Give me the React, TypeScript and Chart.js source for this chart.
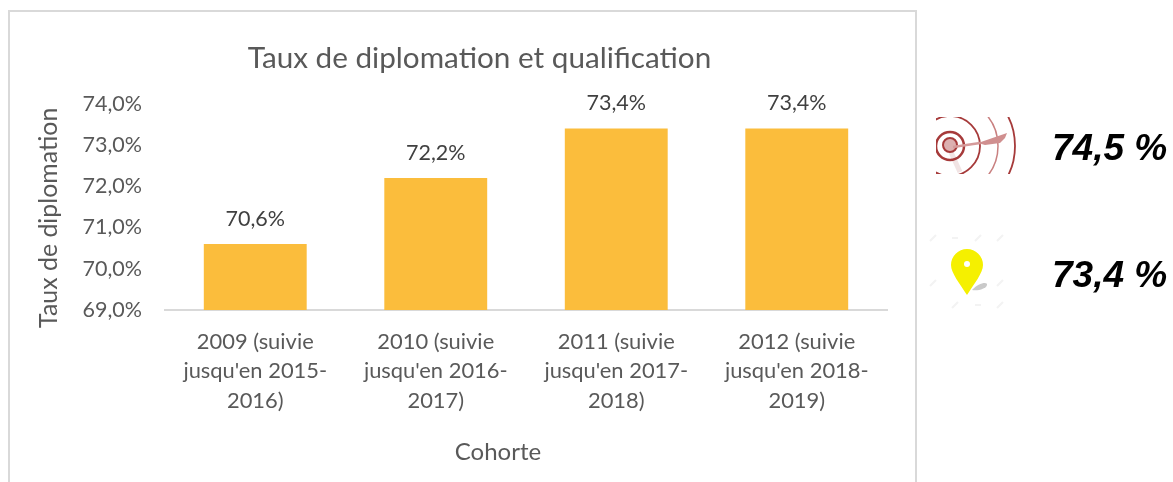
import React, { useEffect, useRef } from "react";
import { Chart, registerables } from "chart.js";

Chart.register(...registerables);

const categories = [
  ["2009 (suivie", "jusqu'en 2015-", "2016)"],
  ["2010 (suivie", "jusqu'en 2016-", "2017)"],
  ["2011 (suivie", "jusqu'en 2017-", "2018)"],
  ["2012 (suivie", "jusqu'en 2018-", "2019)"],
];
const rates = [70.6, 72.2, 73.4, 73.4];
const targetLabel = "74,5 %";
const currentLabel = "73,4 %";
const chartTitle = "Taux de diplomation et qualification";
const yTitle = "Taux de diplomation";
const xTitle = "Cohorte";

const GREY = "#595959";
const FONT = "Lato, 'Open Sans', sans-serif";
const fr = (v: number) => v.toFixed(1).replace(".", ",") + "%";

const framePlugin = {
  id: "frame",
  beforeDraw(chart: any) {
    const c = chart.ctx;
    c.save();
    c.strokeStyle = "#d9d9d9";
    c.lineWidth = 2;
    c.beginPath();
    c.moveTo(9, 482);
    c.lineTo(9, 11);
    c.lineTo(916, 11);
    c.lineTo(916, 482);
    c.stroke();
    c.restore();
  },
};

// The reference centres its titles on the whole frame, not on the plot area.
const shiftScaleTitle = (chart: any, scale: any, dx: number, dy: number) => {
  const draw = Object.getPrototypeOf(scale).drawTitle;
  scale.drawTitle = function () {
    chart.ctx.save();
    chart.ctx.translate(dx, dy);
    draw.call(scale);
    chart.ctx.restore();
  };
};

const titleOffsets = {
  id: "titleOffsets",
  afterLayout(chart: any) {
    chart.titleBlock.left += 36;
    chart.titleBlock.right += 36;
    shiftScaleTitle(chart, chart.scales.x, -28, 0);
    shiftScaleTitle(chart, chart.scales.y, 0, 11);
  },
};

const valueLabels = {
  id: "valueLabels",
  afterDatasetsDraw(chart: any) {
    const c = chart.ctx;
    c.save();
    c.fillStyle = "#404040";
    c.font = `21.5px ${FONT}`;
    c.textAlign = "center";
    c.textBaseline = "middle";
    chart.getDatasetMeta(0).data.forEach((bar: any, i: number) => {
      c.fillText(fr(rates[i]), bar.x, bar.y - 25);
    });
    c.restore();
  },
};

export default function App() {
  const ref = useRef<HTMLCanvasElement>(null);
  useEffect(() => {
    const chart = new Chart(ref.current!, {
      type: "bar",
      data: {
        labels: categories,
        datasets: [
          { data: rates, backgroundColor: "#fbbd3c", barPercentage: 0.57, categoryPercentage: 1 },
        ],
      },
      plugins: [framePlugin, titleOffsets, valueLabels],
      options: {
        animation: false,
        responsive: false,
        layout: { padding: { top: 0, right: 286, left: 0, bottom: 0 } },
        plugins: {
          legend: { display: false },
          tooltip: { enabled: false },
          title: {
            display: true,
            text: chartTitle,
            color: GREY,
            font: { family: FONT, size: 29.7, weight: "normal" },
            padding: { top: 41, bottom: 27 },
          },
        },
        scales: {
          x: {
            grid: { display: false, drawTicks: false },
            border: { color: "#d9d9d9", width: 2 },
            ticks: {
              color: GREY,
              font: { family: FONT, size: 21.9, lineHeight: 1.35 },
              padding: 17,
              maxRotation: 0,
              autoSkip: false,
            },
            title: {
              display: true,
              text: xTitle,
              color: GREY,
              font: { family: FONT, size: 24 },
              padding: { top: 15, bottom: 15 },
            },
            afterFit(s: any) {
              s.height = 172;
            },
          },
          y: {
            min: 69,
            max: 74,
            grid: { display: false, drawTicks: false },
            border: { display: false },
            ticks: {
              stepSize: 1,
              color: GREY,
              font: { family: FONT, size: 21.5 },
              padding: 23,
              callback: (v: any) => fr(Number(v)),
            },
            title: {
              display: true,
              text: yTitle,
              color: GREY,
              font: { family: FONT, size: 24.9 },
              padding: { top: 34, bottom: 34 },
            },
            afterFit(s: any) {
              s.width = 165;
            },
          },
        },
      },
    } as any);
    return () => chart.destroy();
  }, []);

  const side: React.CSSProperties = {
    position: "absolute",
    left: 1052,
    font: "italic bold 37px 'Liberation Sans', Arial, sans-serif",
    color: "#000",
    lineHeight: "44px",
    whiteSpace: "nowrap",
  };

  return (
    <div style={{ position: "fixed", left: 0, top: 0, width: 1173, height: 482, background: "#fff", overflow: "hidden" }}>
      <canvas ref={ref} width={1173} height={482} style={{ display: "block" }} />
      <svg width={1173} height={482} style={{ position: "absolute", left: 0, top: 0 }}>
        <defs>
          <clipPath id="tg"><rect x={936} y={117} width={80} height={57} /></clipPath>
        </defs>
        <g clipPath="url(#tg)" fill="none">
          <path d="M950 150 L960 172" stroke="#f1e4e4" strokeWidth={5} />
          <circle cx={950} cy={146} r={14} stroke="#a63a3a" strokeWidth={2.5} />
          <circle cx={950} cy={145} r={7} fill="#dcb0b0" stroke="#a63a3a" strokeWidth={2} />
          <circle cx={950} cy={146} r={30} stroke="#a63a3a" strokeWidth={1.8} />
          <circle cx={950} cy={146} r={48} stroke="#c98080" strokeWidth={1.5} />
          <circle cx={950} cy={146} r={65} stroke="#a63a3a" strokeWidth={1.8} />
          <path d="M953 147 L980 143" stroke="#d59a9a" strokeWidth={2.5} />
          <path d="M978 143 L1007 133 L1005 138 L1000 143 L985 145 Z" fill="#d08f8f" />
        </g>
        <g stroke="#f3f3f3" strokeWidth={2} fill="none">
          <path d="M930 241 L936 235 M952 238 L958 238 M975 241 L981 235 M997 241 L1003 235" />
          <path d="M930 286 L936 280 M997 286 L1003 280" />
          <path d="M952 308 L958 302 M975 305 L981 305 M997 308 L1003 302" />
        </g>
        <path d="M972 290 C978 283 988 281 987 285 C986 289 978 291 972 290 Z" fill="#c9c9c9" />
        <path
          d="M967 295 C960 284 951 273 951 265 A16 16 0 0 1 983 265 C983 273 974 284 967 295 Z"
          fill="#f5f000"
        />
        <circle cx={967} cy={264} r={3} fill="#fff" />
      </svg>
      <div style={{ ...side, top: 126 }}>{targetLabel}</div>
      <div style={{ ...side, top: 253 }}>{currentLabel}</div>
    </div>
  );
}
